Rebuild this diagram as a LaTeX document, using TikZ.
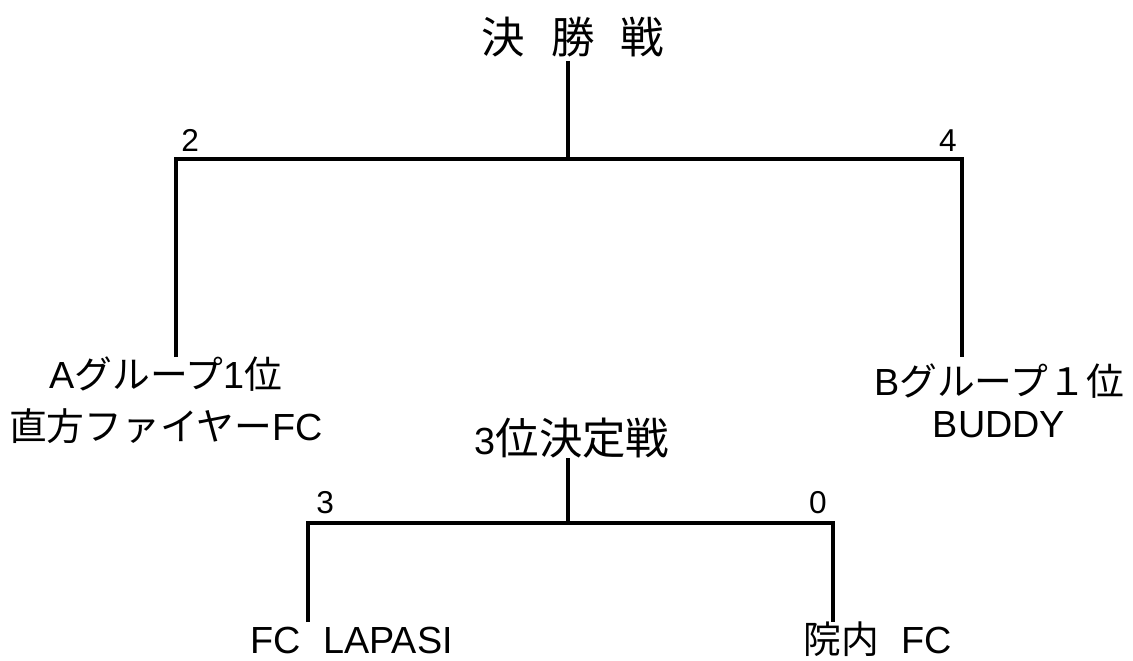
\documentclass[tikz,border=0pt]{standalone}
\usepackage{fontspec}
\setmainfont{Liberation Sans}
\newfontfamily\jp{Noto Sans CJK JP}[Scale=1.15]
\newfontfamily\jpt{Noto Sans CJK JP}
\usetikzlibrary{positioning}

\begin{document}
\begin{tikzpicture}[x=0.02cm,y=0.02cm,
  bracket/.style={line width=1.9pt},
  team/.style={align=center,inner sep=0pt,font=\fontsize{21.5}{29.6}\selectfont},
  score/.style={inner sep=0pt,font=\fontsize{18}{20}\selectfont},
  roundname/.style={inner xsep=0pt,inner ysep=2pt,font=\fontsize{21.5}{24}\selectfont}]
\useasboundingbox (0,0) rectangle (1133,-660);
% final
\node[roundname] (final) at (573,-37) {{\jp 決}\hspace{0.52cm}{\jp 勝}\hspace{0.52cm}{\jp 戦}};
\coordinate (fbar) at (568,-159);
\coordinate (cA) at (176,-159);
\coordinate (cB) at (962,-159);
\coordinate (kA) at (176,-357);
\coordinate (kB) at (962,-357);
\node[team, anchor=base] (teamA) at (166,-440) {A{\jpt グループ}1{\jpt 位}\\{\jpt 直方ファイヤー}FC};
\node[team, anchor=base, font=\fontsize{21.5}{23.9}\selectfont] (teamB) at (999,-437) {B{\jpt グループ１位}\\BUDDY};
\node[score, above right=0.15cm and 0.1cm of cA] (scoreA) {2};
\node[score, above left=0.15cm and 0.1cm of cB] (scoreB) {4};
\draw[bracket] (final.south -| fbar) -- (fbar);
\draw[bracket] (kA) |- (fbar) -| (kB);
% 3rd place
\node[roundname, inner ysep=0pt] (third) at (572,-438) {3{\jp 位決定戦}};
\coordinate (tbar) at (568,-523);
\coordinate (cC) at (308,-523);
\coordinate (cD) at (833,-523);
\coordinate (kC) at (308,-622);
\coordinate (kD) at (833,-622);
\node[team, anchor=base west] (teamC) at (250,-653) {FC\hspace{0.45cm}LAPASI};
\node[team, anchor=base west] (teamD) at (803,-653) {{\jpt 院内}\hspace{0.45cm}FC};
\node[score, above right=0.17cm and 0.16cm of cC] (scoreC) {3};
\node[score, above left=0.17cm and 0.12cm of cD] (scoreD) {0};
\draw[bracket] (third.south -| tbar) -- (tbar);
\draw[bracket] (kC) |- (tbar) -| (kD);
\end{tikzpicture}
\end{document}
